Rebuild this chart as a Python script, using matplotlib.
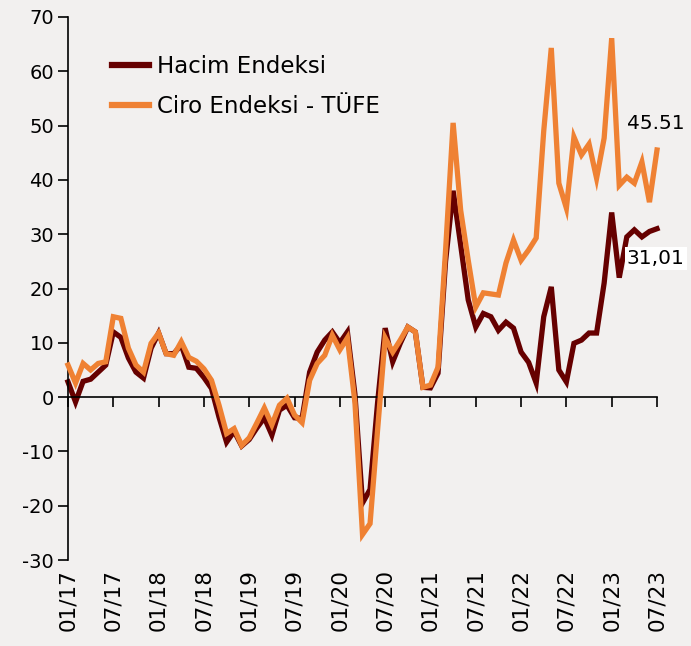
import matplotlib
matplotlib.use('Agg')
import matplotlib.pyplot as plt
import matplotlib.transforms as mtransforms
import numpy as np

# monthly values, 01/17 .. 07/23
hacim = [2.8, -0.9, 2.9, 3.3, 4.6, 5.9, 12.0, 11.0, 7.2, 4.6, 3.5, 9.0,
         11.8, 8.0, 8.0, 9.6, 5.5, 5.3, 3.6, 1.6, -3.7, -8.3, -6.3, -9.0,
         -7.8, -5.7, -3.8, -7.0, -2.4, -1.5, -3.8, -3.9, 4.6, 8.3, 10.5, 12.0,
         10.0, 12.0, 0.5, -19.5, -17.0, -1.0, 12.7, 6.5, 9.9, 12.9, 12.0, 1.8,
         1.7, 4.4, 25.0, 38.0, 28.0, 17.9, 12.9, 15.4, 14.8, 12.3, 13.8, 12.7,
         8.3, 6.4, 2.6, 14.8, 20.3, 5.0, 2.8, 9.9, 10.5, 11.8, 11.8, 21.0,
         34.0, 22.0, 29.5, 30.8, 29.5, 30.5, 31.01]

ciro = [5.9, 2.6, 6.2, 5.0, 6.2, 6.5, 14.8, 14.5, 9.0, 5.9, 4.6, 9.9,
        11.8, 8.0, 7.7, 10.2, 7.3, 6.6, 5.2, 3.1, -1.5, -6.7, -5.8, -8.9,
        -7.5, -4.8, -2.0, -5.1, -1.5, -0.2, -3.3, -4.7, 3.1, 6.2, 7.7, 11.4,
        8.7, 10.9, -1.0, -25.3, -23.3, -6.0, 10.9, 8.3, 10.5, 12.9, 12.0, 1.8,
        2.2, 5.5, 27.0, 50.5, 34.4, 25.2, 16.6, 19.2, 19.0, 18.8, 24.7, 28.9,
        25.2, 27.1, 29.3, 49.0, 64.3, 39.4, 34.8, 47.9, 44.6, 46.6, 40.3, 47.7,
        66.1, 39.0, 40.5, 39.4, 43.3, 35.9, 45.51]

tick_labels = ['01/17', '07/17', '01/18', '07/18', '01/19', '07/19', '01/20',
               '07/20', '01/21', '07/21', '01/22', '07/22', '01/23', '07/23']

bg = '#f2f0ef'
dark = '#660000'
orange = '#ef8133'

plt.rcParams['font.family'] = ['DejaVu Sans']
plt.rcParams['axes.unicode_minus'] = False

fig = plt.figure(figsize=(6.91, 6.46), dpi=100, facecolor=bg)
ax = fig.add_axes([68 / 691, 1 - 560 / 646, (657 - 68) / 691, (560 - 17) / 646])
ax.set_facecolor(bg)

x = np.arange(len(hacim))
ax.plot(x, hacim, color=dark, lw=3.8, label='Hacim Endeksi', clip_on=False,
        solid_joinstyle='miter', zorder=2)
ax.plot(x, ciro, color=orange, lw=3.8, label='Ciro Endeksi - TÜFE', clip_on=False,
        solid_joinstyle='miter', zorder=3)

ax.set_xlim(0, len(hacim) - 1)
ax.set_ylim(-30, 70)
ax.set_yticks(np.arange(-30, 71, 10))
ax.tick_params(axis='y', direction='out', length=7, width=1.2, labelsize=14, pad=3)

ax.spines['top'].set_visible(False)
ax.spines['right'].set_visible(False)
ax.spines['left'].set_linewidth(1.2)
ax.spines['bottom'].set_position(('data', 0))
ax.spines['bottom'].set_linewidth(1.2)

pos = np.arange(0, len(hacim), 6)
ax.set_xticks(pos)
ax.tick_params(axis='x', direction='out', length=7, width=1.2, labelbottom=False)

trans = mtransforms.blended_transform_factory(ax.transData, ax.transAxes)
for p, lab in zip(pos, tick_labels):
    ax.text(p, -0.016, lab, rotation=90, ha='center', va='top', fontsize=15.5,
            transform=trans)

ax.text(len(hacim) - 5, ciro[-1] + 4.8, '45.51', fontsize=14.5, ha='left', va='center',
        zorder=5, clip_on=False)
ax.text(len(hacim) - 5, hacim[-1] - 5.5, '31,01', fontsize=14.5, ha='left', va='center',
        zorder=5, clip_on=False,
        bbox=dict(facecolor='white', edgecolor='none', pad=1.5))

leg = ax.legend(loc='upper left', bbox_to_anchor=(0.056, 0.951), frameon=False,
                fontsize=16.5, handlelength=1.6, handletextpad=0.35,
                labelspacing=0.72, borderpad=0)
for h in leg.get_lines():
    h.set_linewidth(4.5)

fig.savefig('out.png', dpi=100, facecolor=bg)
